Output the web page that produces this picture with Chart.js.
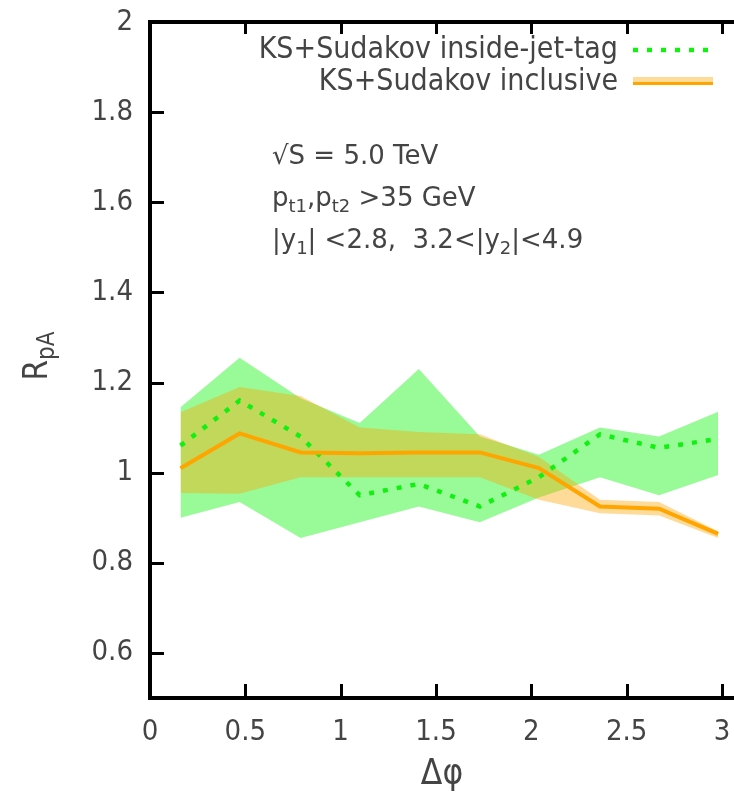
<!DOCTYPE html>
<html>
<head>
<meta charset="utf-8">
<title>R_pA vs delta phi</title>
<script src="https://cdn.jsdelivr.net/npm/chart.js@4.4.1/dist/chart.umd.min.js"></script>
<style>
  html, body { margin: 0; padding: 0; background: #fff; }
  #wrap { width: 734px; height: 796px; }
</style>
</head>
<body>
<div id="wrap"><canvas id="rpa-chart" width="734" height="796"></canvas></div>
<script>
// bin centres in delta phi
const dphi = [0.16, 0.47, 0.79, 1.10, 1.41, 1.73, 2.04, 2.36, 2.67, 2.98];

// KS+Sudakov, inside-jet-tag
const tagCentral = [1.06, 1.16, 1.08, 0.95, 0.975, 0.925, 0.99, 1.085, 1.055, 1.075];
const tagUpper   = [1.145, 1.255, 1.165, 1.11, 1.23, 1.08, 1.04, 1.10, 1.08, 1.135];
const tagLower   = [0.90, 0.935, 0.855, 0.89, 0.925, 0.89, 0.945, 0.99, 0.95, 0.995];

// KS+Sudakov, inclusive
const inclCentral = [1.01, 1.087, 1.045, 1.043, 1.045, 1.045, 1.01, 0.925, 0.92, 0.864];
const inclUpper   = [1.134, 1.19, 1.17, 1.10, 1.09, 1.085, 1.035, 0.94, 0.935, 0.87];
const inclLower   = [0.955, 0.953, 0.99, 0.99, 0.99, 0.99, 0.94, 0.91, 0.905, 0.855];

const xTicks = [0, 0.5, 1, 1.5, 2, 2.5, 3];
const yTicks = [0.6, 0.8, 1, 1.2, 1.4, 1.6, 1.8, 2];

const seriesLabels = ['KS+Sudakov inside-jet-tag', 'KS+Sudakov inclusive'];

const FONT = '"DejaVu Sans Condensed", "DejaVu Sans", sans-serif';
const FONT_WIDE = '"DejaVu Sans", sans-serif';
const TEXT = '#444';
const GREEN_BAND = 'rgb(152,251,152)';
const GREEN_LINE = '#11f011';
const ORANGE_LINE = '#ffa500';
const ORANGE_BAND = 'rgba(255,165,0,0.4)';

const pts = arr => dphi.map((x, i) => ({ x: x, y: arr[i] }));

const band = {
  pointRadius: 0,
  borderWidth: 0,
  tension: 0
};

// keep the plot area exactly where the layout puts it
const noPadding = s => {
  s.paddingTop = 0;
  s.paddingBottom = 0;
  s.paddingLeft = 0;
  s.paddingRight = 0;
};

// draws a run of text pieces, some of them as subscripts
function drawRich(ctx, parts, x, y, size, subSize, family, align) {
  let total = 0;
  parts.forEach(p => {
    ctx.font = (p.sub ? subSize : size) + 'px ' + family;
    p.w = ctx.measureText(p.t).width;
    total += p.w;
  });
  let cx = align === 'right' ? x - total : align === 'center' ? x - total / 2 : x;
  ctx.textAlign = 'left';
  ctx.textBaseline = 'alphabetic';
  parts.forEach(p => {
    ctx.font = (p.sub ? subSize : size) + 'px ' + family;
    ctx.fillText(p.t, cx, p.sub ? y + size * 0.22 : y);
    cx += p.w;
  });
}

const frame = {
  id: 'frame',
  afterDraw(chart) {
    const ctx = chart.ctx;
    const a = chart.chartArea;
    const xs = chart.scales.x, ys = chart.scales.y;
    ctx.save();

    // border: left, top, bottom
    ctx.strokeStyle = '#000';
    ctx.lineWidth = 4;
    ctx.lineCap = 'butt';
    ctx.beginPath();
    ctx.moveTo(chart.width, a.top);
    ctx.lineTo(a.left, a.top);
    ctx.lineTo(a.left, a.bottom);
    ctx.lineTo(chart.width, a.bottom);
    ctx.stroke();

    // inward tick marks
    ctx.lineWidth = 3;
    ctx.beginPath();
    yTicks.forEach(v => {
      const py = Math.round(ys.getPixelForValue(v)) + 0.5;
      ctx.moveTo(a.left, py);
      ctx.lineTo(a.left + 14, py);
    });
    xTicks.forEach(v => {
      const px = Math.round(xs.getPixelForValue(v)) + 0.5;
      ctx.moveTo(px, a.top);
      ctx.lineTo(px, a.top + 12);
      ctx.moveTo(px, a.bottom);
      ctx.lineTo(px, a.bottom - 14);
    });
    ctx.stroke();

    // key, top right
    const keyX0 = 633, keyX1 = 713, keyTextX = 618;
    const rows = [50, 82];
    rows.forEach((ry, i) => {
      ctx.font = '30px ' + FONT;
      ctx.textAlign = 'right';
      ctx.textBaseline = 'middle';
      ctx.fillStyle = TEXT;
      ctx.fillText(seriesLabels[i], keyTextX, ry);
    });
    ctx.strokeStyle = GREEN_LINE;
    ctx.lineWidth = 4.5;
    ctx.setLineDash([5, 9]);
    ctx.beginPath();
    ctx.moveTo(keyX0, rows[0]);
    ctx.lineTo(keyX1, rows[0]);
    ctx.stroke();
    ctx.setLineDash([]);
    ctx.fillStyle = ORANGE_BAND;
    ctx.fillRect(keyX0, rows[1] - 5, keyX1 - keyX0, 8);
    ctx.strokeStyle = ORANGE_LINE;
    ctx.lineWidth = 3;
    ctx.beginPath();
    ctx.moveTo(keyX0, rows[1] + 1.5);
    ctx.lineTo(keyX1, rows[1] + 1.5);
    ctx.stroke();

    // kinematics
    ctx.fillStyle = TEXT;
    const tx = 272;
    drawRich(ctx, [{ t: '\u221AS = 5.0 TeV' }], tx, 164, 26, 18, FONT_WIDE, 'left');
    drawRich(ctx, [
      { t: 'p' }, { t: 't1', sub: true }, { t: ',p' }, { t: 't2', sub: true }, { t: ' >35 GeV' }
    ], tx, 206, 26, 18, FONT_WIDE, 'left');
    drawRich(ctx, [
      { t: '|y' }, { t: '1', sub: true }, { t: '| <2.8,  3.2<|y' }, { t: '2', sub: true }, { t: '|<4.9' }
    ], tx, 248, 26, 18, FONT_WIDE, 'left');

    // y axis title
    ctx.translate(47, 356);
    ctx.rotate(-Math.PI / 2);
    drawRich(ctx, [{ t: 'R' }, { t: 'pA', sub: true }], 0, 0, 33, 24, FONT, 'center');

    ctx.restore();
  }
};

new Chart(document.getElementById('rpa-chart'), {
  type: 'line',
  data: {
    datasets: [
      Object.assign({ label: 'tag lower', data: pts(tagLower), fill: false, order: 6 }, band),
      Object.assign({ label: 'tag upper', data: pts(tagUpper), fill: '-1',
        backgroundColor: GREEN_BAND, order: 5 }, band),
      Object.assign({ label: 'incl lower', data: pts(inclLower), fill: false, order: 4 }, band),
      Object.assign({ label: 'incl upper', data: pts(inclUpper), fill: '-1',
        backgroundColor: ORANGE_BAND, order: 3 }, band),
      {
        label: seriesLabels[0],
        data: pts(tagCentral),
        borderColor: GREEN_LINE,
        borderWidth: 4.5,
        borderDash: [5, 9],
        pointRadius: 0,
        fill: false,
        order: 2
      },
      {
        label: seriesLabels[1],
        data: pts(inclCentral),
        borderColor: ORANGE_LINE,
        borderWidth: 4,
        pointRadius: 0,
        fill: false,
        order: 1
      }
    ]
  },
  options: {
    responsive: false,
    animation: false,
    devicePixelRatio: 1,
    layout: { padding: { top: 22, right: 0, left: 0, bottom: 0 } },
    plugins: {
      legend: { display: false },
      tooltip: { enabled: false },
      filler: { propagate: false }
    },
    scales: {
      x: {
        type: 'linear',
        min: 0,
        max: 3.063,
        afterBuildTicks: s => { s.ticks = xTicks.map(v => ({ value: v })); },
        afterFit: s => { s.height = 98; noPadding(s); },
        grid: { display: false, drawTicks: false },
        border: { display: false },
        ticks: {
          color: TEXT,
          font: { family: FONT, size: 29 },
          padding: 17,
          maxRotation: 0,
          autoSkip: false,
          callback: v => String(v)
        },
        title: {
          display: true,
          text: '\u0394\u03C6',
          color: TEXT,
          font: { family: FONT, size: 35 },
          padding: { top: 0, bottom: 0 }
        }
      },
      y: {
        type: 'linear',
        min: 0.5,
        max: 2,
        afterBuildTicks: s => { s.ticks = yTicks.map(v => ({ value: v })); },
        afterFit: s => { s.width = 150; noPadding(s); },
        grid: { display: false, drawTicks: false },
        border: { display: false },
        ticks: {
          color: TEXT,
          font: { family: FONT, size: 29 },
          padding: 17,
          callback: v => String(v)
        }
      }
    }
  },
  plugins: [frame]
});
</script>
</body>
</html>
